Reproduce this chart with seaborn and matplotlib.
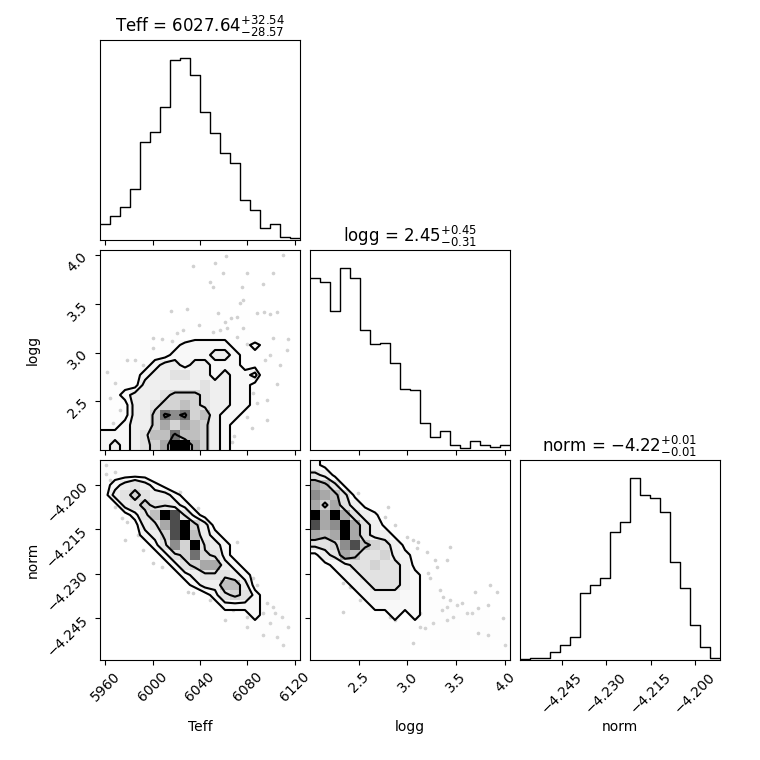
import numpy as np
import pandas as pd
import matplotlib
matplotlib.use("Agg")
import matplotlib.pyplot as plt
import seaborn as sns
from matplotlib.colors import LinearSegmentedColormap

# parameter names, titles, axis ranges and ticks
labels = ["Teff", "logg", "norm"]
titles = [r"Teff = $6027.64_{-28.57}^{+32.54}$",
          r"logg = $2.45_{-0.31}^{+0.45}$",
          r"norm = $-4.22_{-0.01}^{+0.01}$"]
ranges = [(5955.5, 6124.5), (2.001, 4.051), (-4.2591, -4.1916)]
ticks = [[5960, 6000, 6040, 6080, 6120],
         [2.5, 3.0, 3.5, 4.0],
         [-4.245, -4.230, -4.215, -4.200]]
tick_fmt = ["{:.0f}", "{:.1f}", "{:.3f}"]

# 1D histogram counts (20 bins over each range)
teff_counts = [47, 72, 98, 152, 293, 323, 398, 539, 545, 496, 383, 320, 260, 230, 119, 90, 35, 47, 8, 5]
logg_counts = [516, 505, 418, 545, 516, 360, 318, 322, 260, 184, 179, 82, 40, 57, 14, 5, 27, 15, 8, 15]
norm_counts = [4, 7, 7, 24, 44, 68, 200, 225, 246, 382, 413, 544, 494, 485, 444, 292, 214, 104, 38, 7]

# 2D histogram cells, hex digits, rows from top (high y) to bottom, columns left to right
teff_logg_grid = [
    "00000000000000000000",
    "00000000000000000000",
    "00000000000000000000",
    "00000000000000000000",
    "00000000000000000000",
    "00000000000010000000",
    "00000000001000100000",
    "00000000100100000000",
    "00000001011110100000",
    "00001011222221121010",
    "10101112222332110100",
    "01011233233222111000",
    "10112334433232230100",
    "11113333334332210000",
    "11233345554332210000",
    "11133455654332210000",
    "11133598956322100000",
    "11233575765321000000",
    "22234669665321000000",
    "2323457cc75321000000",
]
teff_norm_grid = [
    "10000000000000000000",
    "11111000000000000000",
    "12343210000000000000",
    "13454332100000000000",
    "01345443210000000000",
    "001246ca421000000000",
    "0001347ac53100000000",
    "0001235ac63210000000",
    "000012485c4321000000",
    "00000124595421000000",
    "00000012457732100000",
    "00000001234443210000",
    "00000000123366310000",
    "00000000001245421000",
    "00000000000122221100",
    "00000000000011121110",
    "00000000000000111110",
    "00000000000000011100",
    "00000000000000001010",
    "00000000000000000000",
]
logg_norm_grid = [
    "21000000000000000000",
    "43100000000000000000",
    "76410000000000000000",
    "87641000000000000000",
    "75743100000000000000",
    "c7c74320000000000000",
    "a78c7431000000000000",
    "767c7433100000000000",
    "4458a654310000000000",
    "13476445321000000000",
    "01234454431000000000",
    "00123444432100000000",
    "00012344432110000000",
    "00001233322110000000",
    "00001122222111100000",
    "00000111212111111100",
    "00000001101111101110",
    "00000000110101110111",
    "00000000010011010101",
    "00000000000000100010",
]

# scattered samples visible outside the contours
teff_logg_teff = [6062.0, 6109.9, 6034.4, 6052.7, 6059.2, 6079.4, 6102.0, 6048.5, 6051.3, 6075.2,
                  6093.5, 6076.6, 6073.8, 6015.5, 6029.3, 6055.5, 6065.9, 6061.1, 6071.0, 6087.9,
                  6094.1, 6099.2, 6104.8, 6039.4, 6025.4, 6051.3, 6056.9, 6062.5, 6076.6, 6020.3,
                  6000.0, 6007.6, 6016.1, 6071.0, 6079.4, 6102.0, 6114.7, 6000.6, 5992.1, 5985.1,
                  5978.0, 5961.7, 5968.2, 5989.3, 5997.2, 5986.5, 5964.0, 6107.6, 6113.3, 6099.2,
                  6094.9, 6104.8, 6085.1, 6087.9, 6079.4, 6096.4, 6083.7, 6068.7, 6066.8, 5980.9,
                  5972.4, 5966.2, 6096.4]
teff_logg_logg = [3.988, 3.995, 3.886, 3.913, 3.818, 3.811, 3.818, 3.725, 3.674, 3.674,
                  3.701, 3.537, 3.503, 3.428, 3.442, 3.401, 3.350, 3.315, 3.360, 3.408,
                  3.418, 3.391, 3.418, 3.281, 3.230, 3.213, 3.230, 3.247, 3.247, 3.196,
                  3.145, 3.134, 3.121, 3.155, 3.086, 3.145, 3.134, 3.042, 2.871, 2.922,
                  2.922, 2.803, 2.683, 2.676, 2.588, 2.564, 2.529, 2.871, 3.025, 2.974,
                  2.922, 2.673, 2.581, 2.478, 2.342, 2.307, 2.222, 2.143, 2.085, 2.615,
                  2.410, 2.273, 2.512]
teff_norm_teff = [5960.6, 5968.2, 5964.0, 5985.1, 5989.3, 5997.8, 5968.2, 5973.8, 5978.0, 5976.6,
                  5987.9, 5992.1, 6000.6, 6007.6, 6011.8, 6018.9, 6023.1, 6038.6, 6042.8, 6062.5,
                  6071.0, 6030.2, 6034.4, 6048.5, 6068.2, 6061.1, 6079.4, 6087.9, 6085.1, 6087.9,
                  6096.4, 6093.5, 6102.0, 6099.2, 6103.4, 6109.0, 6104.8, 6093.5, 6114.7, 6110.4,
                  6079.4, 5960.6]
teff_norm_norm = [-4.19633, -4.19554, -4.19835, -4.19779, -4.19858, -4.19891, -4.20735, -4.21129,
                  -4.21241, -4.21860, -4.21691, -4.22198, -4.22648, -4.22760, -4.20229, -4.20285,
                  -4.20229, -4.20791, -4.21185, -4.21973, -4.21916, -4.23604, -4.23660, -4.23885,
                  -4.24223, -4.24560, -4.24448, -4.23998, -4.23154, -4.23379, -4.23998, -4.24335,
                  -4.24110, -4.24673, -4.24335, -4.24448, -4.25123, -4.25066, -4.24785, -4.25404,
                  -4.24785, -4.19329]
logg_norm_logg = [2.137, 2.273, 2.495, 2.803, 2.769, 2.871, 2.991, 3.059, 3.111, 3.093,
                  3.196, 3.435, 3.281, 3.401, 3.298, 3.213, 3.230, 3.333, 3.367, 3.435,
                  3.401, 3.350, 3.503, 3.555, 3.691, 3.845, 3.914, 3.828, 3.726, 3.606,
                  3.469, 3.401, 3.128, 2.820, 2.683, 2.769, 2.581, 2.513, 2.342, 2.410,
                  2.342, 3.128, 3.059, 2.871, 3.726, 3.828, 3.982, 3.999, 3.264, 3.179,
                  3.657, 2.085, 2.154]
logg_norm_norm = [-4.19554, -4.19891, -4.20285, -4.20735, -4.21073, -4.21354, -4.21748, -4.21860,
                  -4.21916, -4.22141, -4.22254, -4.22085, -4.22535, -4.22535, -4.22760, -4.22985,
                  -4.23154, -4.23548, -4.23773, -4.23885, -4.24110, -4.24223, -4.24054, -4.23998,
                  -4.23604, -4.23379, -4.23604, -4.24054, -4.24166, -4.24335, -4.24448, -4.24560,
                  -4.24335, -4.24448, -4.24166, -4.23998, -4.23773, -4.23885, -4.24279, -4.23435,
                  -4.23323, -4.24785, -4.25348, -4.24560, -4.25010, -4.25066, -4.24504, -4.25404,
                  -4.24673, -4.24841, -4.24335, -4.22141, -4.22423]

mass_levels = 1.0 - np.exp(-0.5 * np.arange(0.5, 2.1, 0.5) ** 2)
density_cmap = LinearSegmentedColormap.from_list("density_cmap", ["k", (1, 1, 1, 0)])


def fmt_ticks(ax, axis, i, show):
    loc = ax.xaxis if axis == "x" else ax.yaxis
    loc.set_ticks(ticks[i])
    if show:
        lab = [tick_fmt[i].format(v).replace("-", "\u2212") for v in ticks[i]]
        loc.set_ticklabels(lab, rotation=45)
    else:
        loc.set_ticklabels([])


def draw_hist(ax, counts, i):
    edges = np.linspace(ranges[i][0], ranges[i][1], len(counts) + 1).tolist()
    centers = [0.5 * (a + b) for a, b in zip(edges[:-1], edges[1:])]
    df = pd.DataFrame({"value": centers, "count": counts})
    sns.histplot(data=df, x="value", weights="count", bins=edges, element="step", fill=False,
                 color="k", linewidth=1.0, ax=ax)
    ax.set_xlim(ranges[i])
    ax.set_ylim(0, 1.1 * max(counts))
    ax.set_yticks([])
    ax.set_ylabel("")
    ax.set_xlabel("")
    ax.set_title(titles[i])


def contour_levels(Z):
    flat = np.sort(Z.ravel())[::-1]
    cum = np.cumsum(flat)
    cum /= cum[-1]
    V = []
    for q in mass_levels:
        sel = flat[cum <= q]
        V.append(sel[-1] if len(sel) else flat[0])
    V = np.sort(np.array(V, float)) - 0.5
    for k in range(1, len(V)):
        if V[k] <= V[k - 1]:
            V[k] = V[k - 1] + 1e-3
    return V


def draw_2d(ax, grid, ix, iy, px, py):
    Z = np.array([[int(c, 16) for c in row] for row in grid], float)[::-1]
    xe = np.linspace(ranges[ix][0], ranges[ix][1], Z.shape[1] + 1)
    ye = np.linspace(ranges[iy][0], ranges[iy][1], Z.shape[0] + 1)
    xc = 0.5 * (xe[1:] + xe[:-1])
    yc = 0.5 * (ye[1:] + ye[:-1])

    # padded copy so contours close at the edges
    Z2 = np.zeros((Z.shape[0] + 4, Z.shape[1] + 4)) + Z.min()
    Z2[2:-2, 2:-2] = Z
    Z2[2:-2, 1] = Z[:, 0]
    Z2[2:-2, -2] = Z[:, -1]
    Z2[1, 2:-2] = Z[0]
    Z2[-2, 2:-2] = Z[-1]
    Z2[1, 1], Z2[1, -2], Z2[-2, 1], Z2[-2, -2] = Z[0, 0], Z[0, -1], Z[-1, 0], Z[-1, -1]
    dx, dy = xc[1] - xc[0], yc[1] - yc[0]
    X2 = np.concatenate([xc[0] + np.array([-2, -1]) * dx, xc, xc[-1] + np.array([1, 2]) * dx])
    Y2 = np.concatenate([yc[0] + np.array([-2, -1]) * dy, yc, yc[-1] + np.array([1, 2]) * dy])

    V = contour_levels(Z)
    pts = pd.DataFrame({"x": px, "y": py})
    sns.scatterplot(data=pts, x="x", y="y", color="k", alpha=0.18, s=7, linewidth=0, ax=ax, zorder=0)
    ax.contourf(X2, Y2, Z2, [V.min(), Z.max() + 1], colors=["white"], antialiased=False, zorder=1)
    ax.pcolormesh(xe, ye, Z.max() - Z, cmap=density_cmap, zorder=2)
    ax.contour(X2, Y2, Z2, V, colors="k", linewidths=1.5, zorder=3)
    ax.set_xlim(ranges[ix])
    ax.set_ylim(ranges[iy])
    ax.set_xlabel("")
    ax.set_ylabel("")


fig, axes = plt.subplots(3, 3, figsize=(7.6, 7.6), dpi=100)
lb = 1.0 / 7.6
tr = 7.2 / 7.6
fig.subplots_adjust(left=lb, bottom=lb, right=tr, top=tr, wspace=0.05, hspace=0.05)

for ax in [axes[0, 1], axes[0, 2], axes[1, 2]]:
    ax.set_frame_on(False)
    ax.set_xticks([])
    ax.set_yticks([])

draw_hist(axes[0, 0], teff_counts, 0)
draw_hist(axes[1, 1], logg_counts, 1)
draw_hist(axes[2, 2], norm_counts, 2)

draw_2d(axes[1, 0], teff_logg_grid, 0, 1, teff_logg_teff, teff_logg_logg)
draw_2d(axes[2, 0], teff_norm_grid, 0, 2, teff_norm_teff, teff_norm_norm)
draw_2d(axes[2, 1], logg_norm_grid, 1, 2, logg_norm_logg, logg_norm_norm)

# ticks and labels
fmt_ticks(axes[0, 0], "x", 0, False)
fmt_ticks(axes[1, 1], "x", 1, False)
fmt_ticks(axes[2, 2], "x", 2, True)
fmt_ticks(axes[1, 0], "x", 0, False)
fmt_ticks(axes[1, 0], "y", 1, True)
fmt_ticks(axes[2, 0], "x", 0, True)
fmt_ticks(axes[2, 0], "y", 2, True)
fmt_ticks(axes[2, 1], "x", 1, True)
fmt_ticks(axes[2, 1], "y", 2, False)

for j in range(3):
    axes[2, j].set_xlabel(labels[j])
    axes[2, j].xaxis.set_label_coords(0.5, -0.3)
for i in [1, 2]:
    axes[i, 0].set_ylabel(labels[i])
    axes[i, 0].yaxis.set_label_coords(-0.3, 0.5)

fig.savefig("out.png", dpi=100)
